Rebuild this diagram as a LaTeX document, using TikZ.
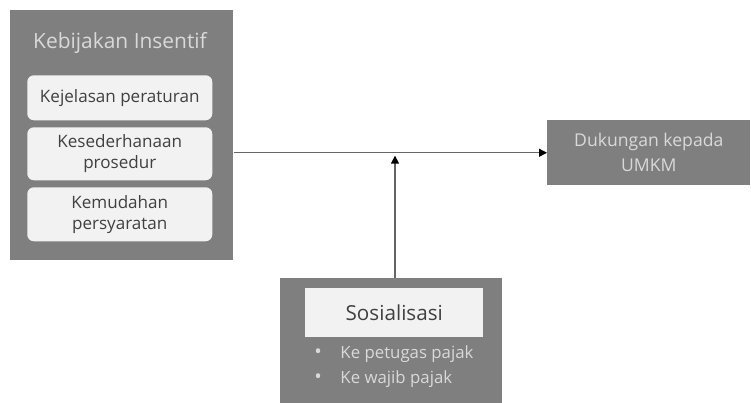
\documentclass[tikz,border=0pt]{standalone}
\usepackage{fontspec}
\setmainfont{Open Sans}
\usepackage{xcolor}
\usetikzlibrary{arrows.meta,positioning,calc}
\definecolor{boxgray}{HTML}{7F7F7F}
\definecolor{palefill}{HTML}{F2F2F2}
\definecolor{lighttext}{HTML}{D9D9D9}
\definecolor{darktext}{HTML}{404040}
\newcommand{\dotmark}{{\fontsize{15}{15}\selectfont\textbullet}\hspace{14pt}}

\begin{document}
\begin{tikzpicture}[x=0.75pt,y=-0.75pt,
 outerbox/.style={fill=boxgray,inner sep=0pt,anchor=north west},
 itembox/.style={fill=palefill,rounded corners=5pt,inner sep=0pt,anchor=north west,
   minimum width=185*0.75pt,align=center,text=darktext,font=\fontsize{12.8}{15.5}\selectfont},
 link/.style={draw=black!60,line width=1pt,-{Triangle[length=6pt,width=6pt,color=black]}}]
\useasboundingbox (0,0) rectangle (751,403);
% left block
\node[outerbox,minimum width=223*0.75pt,minimum height=250*0.75pt] (policy) at (10,10) {};
\node[text=lighttext,font=\fontsize{15.7}{18}\selectfont] (policytitle) at (120,43) {Kebijakan Insentif};
\node[itembox,minimum height=45*0.75pt] (clarity) at (27,75) {Kejelasan peraturan};
\node[itembox,minimum height=53*0.75pt] (simple) at (27,127) {Kesederhanaan\\prosedur};
\node[itembox,minimum height=54*0.75pt] (ease) at (27,187) {Kemudahan\\persyaratan};
% right block
\node[outerbox,minimum width=203*0.75pt,minimum height=65*0.75pt,align=center,
  text=lighttext,font=\fontsize{13.2}{18.75}\selectfont] (support) at (547,120) {Dukungan kepada\\UMKM};
% bottom block
\node[outerbox,minimum width=222*0.75pt,minimum height=126*0.75pt] (social) at (280,278) {};
\node[fill=palefill,inner sep=0pt,anchor=north west,minimum width=178*0.75pt,minimum height=49*0.75pt,
  text=darktext,font=\fontsize{15.5}{18}\selectfont] (socialtitle) at (305,288) {Sosialisasi};
\node[anchor=west,text=lighttext,align=left,inner sep=0pt,font=\fontsize{12.6}{18.75}\selectfont]
  (targets) at (314,367) {\dotmark Ke petugas pajak\\\dotmark Ke wajib pajak};
% connectors
\coordinate (meet) at (395,153);
\draw[link] (policy.east |- support.west) -- (support.west);
\draw[link,shorten >=2pt] (social.north -| meet) -- (meet);
\end{tikzpicture}
\end{document}
